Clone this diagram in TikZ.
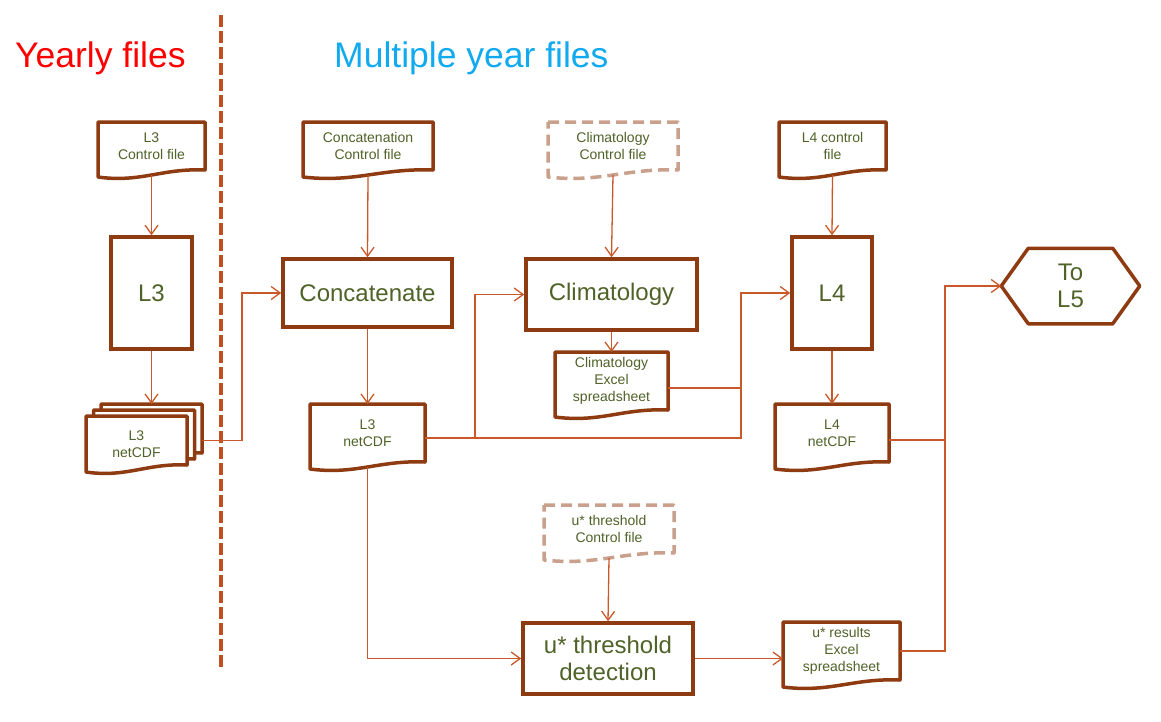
\documentclass[tikz,border=0pt]{standalone}
\usepackage{fontspec}
\setmainfont{Liberation Sans}
\usetikzlibrary{arrows.meta,calc,backgrounds}

\definecolor{boxbrown}{HTML}{8E3B12}
\definecolor{txtolive}{HTML}{4F6228}
\definecolor{flowline}{HTML}{C9582A}
\definecolor{docgrey}{HTML}{C9A08C}
\definecolor{divline}{HTML}{C0501F}
\definecolor{yearred}{HTML}{FF0000}
\definecolor{multiblue}{HTML}{11AAEE}

% document outline behind a named node
\newcommand{\docshape}[2][]{%
  \begin{pgfonlayer}{background}
  \draw[docline,#1] (#2.north west) -- (#2.north east) -- (#2.south east)
    .. controls ([yshift=2pt]$(#2.south west)!0.6!(#2.south east)$)
    and ([yshift=-13pt]$(#2.south west)!0.4!(#2.south east)$)
    .. ([yshift=-7pt]#2.south west) -- cycle;
  \end{pgfonlayer}}

% hexagon outline round a named node
\newcommand{\hexshape}[1]{%
  \begin{pgfonlayer}{background}
  \draw[docline] (#1.west) -- ([xshift=27pt]#1.north west) -- ([xshift=-27pt]#1.north east)
    -- (#1.east) -- ([xshift=-27pt]#1.south east) -- ([xshift=27pt]#1.south west) -- cycle;
  \end{pgfonlayer}}

\begin{document}
\begin{tikzpicture}[x=1pt,y=-1pt,
    docnode/.style={draw=none, outer sep=0pt, inner sep=0pt, align=center, text=txtolive, font=\fontsize{14}{17}\selectfont},
    procbox/.style={draw=boxbrown, line width=3.5pt, fill=white, inner sep=0pt, align=center, text=txtolive, font=\fontsize{24}{27}\selectfont},
    docline/.style={draw=boxbrown, line width=3.5pt, fill=white, line join=round},
    dashedge/.style={draw=docgrey, dash pattern=on 11pt off 6pt},
    flow/.style={draw=flowline, line width=1.3pt, -{Straight Barb[length=9pt,width=13pt]}},
    joinline/.style={draw=flowline, line width=1.3pt},
    divider/.style={draw=divline, line width=3.5pt, dash pattern=on 12pt off 4pt}]
            \useasboundingbox (0,0) rectangle (1161,721);

            % Titles and divider
            \node[anchor=base west, inner sep=0pt, text=yearred, font=\fontsize{35.5}{40}\selectfont] (ttlyear) at (15,67) {Yearly files};
            \node[anchor=base west, inner sep=0pt, text=multiblue, font=\fontsize{35.5}{40}\selectfont] (ttlmulti) at (334,67) {Multiple year files};
            \draw[divider] (221,15) -- (221,670);

            % Control files
            \node[docnode, minimum width=107pt, minimum height=48pt] (ctl3) at (151.5,146) {L3\\Control file};
            \node[docnode, minimum width=130pt, minimum height=48pt] (ctlcat) at (368,146) {Concatenation\\Control file};
            \node[docnode, minimum width=130pt, minimum height=48pt] (ctlclim) at (613,146) {Climatology\\Control file};
            \node[docnode, minimum width=107pt, minimum height=48pt] (ctl4) at (832.5,146) {L4 control\\file};
            \node[docnode, minimum width=130pt, minimum height=48pt] (ctlust) at (609,529) {u* threshold\\Control file};
            \docshape{ctl3}
            \docshape{ctlcat}
            \docshape[dashedge]{ctlclim}
            \docshape{ctl4}
            \docshape[dashedge]{ctlust}

            % Processing steps
            \node[procbox, minimum width=81pt, minimum height=112pt] (l3) at (151.5,293) {L3};
            \node[procbox, minimum width=169pt, minimum height=68pt] (concat) at (367.5,293) {Concatenate};
            \node[procbox, minimum width=171pt, minimum height=71pt] (clim) at (611.5,294.5) {Climatology};
            \node[procbox, minimum width=80pt, minimum height=112pt] (l4) at (832,293) {L4};
            \node[procbox, minimum width=170pt, minimum height=71pt] (ust) at (608,658.5) {u* threshold\\detection};
            \node[procbox, draw=none, fill=none, minimum width=135pt, minimum height=72pt] (tol5) at (1070.5,286) {To\\L5};
            \hexshape{tol5}

            % Output files
            \node[docnode, minimum width=101pt, minimum height=49pt] (nc3yc) at (151.5,428.5) {};
            \node[docnode, minimum width=101pt, minimum height=49pt] (nc3yb) at (144,434.5) {};
            \node[docnode, minimum width=101pt, minimum height=49pt] (nc3ya) at (136.5,440.5) {};
            \docshape{nc3yc}
            \docshape{nc3yb}
            \docshape{nc3ya}
            \node[docnode] (nc3ytxt) at (136.5,444.5) {L3\\netCDF};
            \node[docnode, minimum width=115pt, minimum height=58pt] (nc3) at (367.5,433) {L3\\netCDF};
            \node[docnode, minimum width=113pt, minimum height=58pt] (climxls) at (611.5,381) {Climatology\\Excel\\spreadsheet};
            \node[docnode, minimum width=114pt, minimum height=58pt] (nc4) at (832,433) {L4\\netCDF};
            \node[docnode, minimum width=117pt, minimum height=58pt] (ustxls) at (841.5,651) {u* results\\Excel\\spreadsheet};
            \docshape{nc3}
            \docshape{climxls}
            \docshape{nc4}
            \docshape{ustxls}

            % Junctions
            \coordinate (jclim) at (475,438);
            \coordinate (jl4) at (741,438);
            \coordinate (jl5) at (945,440);

            % Connectors
            \draw[flow] ([yshift=-5pt]ctl3.south) -- (l3.north);
            \draw[flow] (l3.south) -- (nc3yc.north);
            \draw[flow] (nc3yc.east |- nc3ya.east) -- ++(40,0) |- (concat.west);
            \draw[flow] ([yshift=-5pt]ctlcat.south) -- (concat.north);
            \draw[flow] (concat.south) -- (nc3.north);
            \draw[flow] ([yshift=-5pt]nc3.east) -- (jclim) |- (clim.west);
            \draw[flow] (jclim) -- (jl4) |- (l4.west);
            \draw[flow] ([yshift=-5pt]ctlclim.south) -- (clim.north);
            \draw[flow] (clim.south) -- (climxls.north);
            \draw[joinline] ([yshift=-7pt]climxls.east) -- ++(73,0);
            \draw[flow] ([yshift=-5pt]ctl4.south) -- (l4.north);
            \draw[flow] (l4.south) -- (nc4.north);
            \draw[flow] ([yshift=-7pt]nc4.east) -- (jl5) |- (tol5.west);
            \draw[joinline] (ustxls.east) -| (jl5);
            \draw[flow] ([yshift=-5pt]nc3.south) |- (ust.west);
            \draw[flow] ([yshift=-5pt]ctlust.south) -- (ust.north);
            \draw[flow] (ust.east) -- (ust.east -| ustxls.west);
        \end{tikzpicture}
\end{document}
